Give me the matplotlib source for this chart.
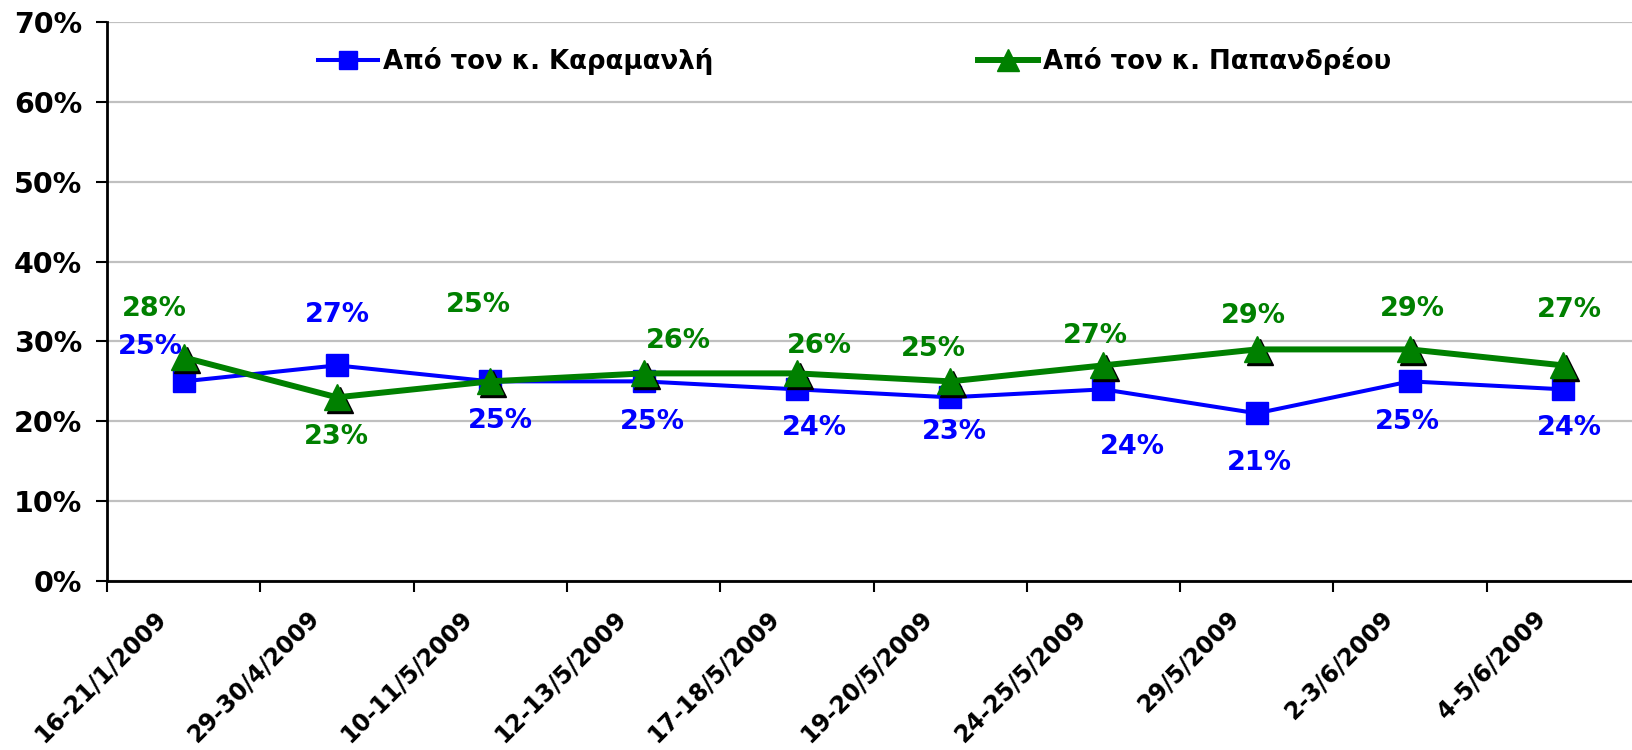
import matplotlib.pyplot as plt
from matplotlib.transforms import ScaledTranslation
from matplotlib.ticker import FixedLocator

dates = ['16-21/1/2009', '29-30/4/2009', '10-11/5/2009', '12-13/5/2009', '17-18/5/2009',
         '19-20/5/2009', '24-25/5/2009', '29/5/2009', '2-3/6/2009', '4-5/6/2009']
karamanlis = [25, 27, 25, 25, 24, 23, 24, 21, 25, 24]
papandreou = [28, 23, 25, 26, 26, 25, 27, 29, 29, 27]
name_k = 'Από τον κ. Καραμανλή'
name_p = 'Από τον κ. Παπανδρέου'

# label offsets in pixels (dx, dy) relative to each point
k_offsets = [(-33, 34), (0, 50), (10, -40), (9, -41), (18, -39), (4, -35), (29, -58), (3, -50), (-3, -41), (6, -39)]
p_offsets = [(-29, 48), (-1, -40), (-12, 76), (35, 32), (23, 27), (-17, 32), (-8, 29), (-3, 33), (2, 40), (6, 55)]

plt.rcParams['font.family'] = 'DejaVu Sans'
plt.rcParams['font.weight'] = 'bold'

blue = '#0000ff'
green = '#008000'

fig = plt.figure(figsize=(16.32, 7.5), dpi=100)
ax = fig.add_axes([107 / 1632, 169 / 750, 1533 / 1632, 559 / 750])

x = list(range(len(dates)))
yk = [v / 100 for v in karamanlis]
yp = [v / 100 for v in papandreou]

ax.plot(x, yk, color=blue, lw=2.9, marker='s', ms=16, mec=blue, mfc=blue, zorder=3, label=name_k)
shadow = ax.transData + ScaledTranslation(3 / 100, -3 / 100, fig.dpi_scale_trans)
ax.plot(x, yp, ls='none', marker='^', ms=19, color='black', transform=shadow, zorder=4)
ax.plot(x, yp, color=green, lw=4.3, marker='^', ms=19, mec=green, mfc=green, zorder=5, label=name_p)

for xi, v, (dx, dy) in zip(x, karamanlis, k_offsets):
    ax.annotate('{}%'.format(v), (xi, v / 100), xytext=(dx, dy), textcoords='offset pixels',
                ha='center', va='center', color=blue, fontsize=19.5, fontweight='bold', zorder=6)
for xi, v, (dx, dy) in zip(x, papandreou, p_offsets):
    ax.annotate('{}%'.format(v), (xi, v / 100), xytext=(dx, dy), textcoords='offset pixels',
                ha='center', va='center', color=green, fontsize=19.5, fontweight='bold', zorder=6)

ax.set_xlim(-0.5, len(dates) - 0.5)
ax.set_ylim(0, 0.7)
ax.set_yticks([i / 10 for i in range(8)])
ax.set_yticklabels(['{}%'.format(i * 10) for i in range(8)], fontsize=20.5, fontweight='bold')
ax.yaxis.grid(True, color='#c0c0c0', lw=1.6)
ax.set_axisbelow(True)

ax.set_xticks(x)
ax.set_xticklabels(dates, rotation=45, ha='right', va='top', rotation_mode='anchor',
                   fontsize=17, fontweight='bold')
ax.xaxis.set_minor_locator(FixedLocator([i - 0.5 for i in range(len(dates) + 1)]))
ax.tick_params(axis='x', which='major', length=0, pad=18)
ax.tick_params(axis='x', which='minor', length=8, width=1.5, direction='out')
ax.tick_params(axis='y', length=8, width=1.5, direction='out', pad=10)
shift = ScaledTranslation(-30 / 100, 0, fig.dpi_scale_trans)
for lab in ax.get_xticklabels():
    lab.set_transform(lab.get_transform() + shift)

for s in ['top', 'right']:
    ax.spines[s].set_visible(False)
for s in ['left', 'bottom']:
    ax.spines[s].set_linewidth(2)

fig.legend(loc='center left', bbox_to_anchor=(318 / 1632, 1 - 61 / 750), ncol=2, frameon=False,
           fontsize=18.7, handlelength=2.3, handletextpad=0.2, columnspacing=10.2,
           borderpad=0, borderaxespad=0, markerscale=0.85)

plt.savefig('out.png', dpi=100)
